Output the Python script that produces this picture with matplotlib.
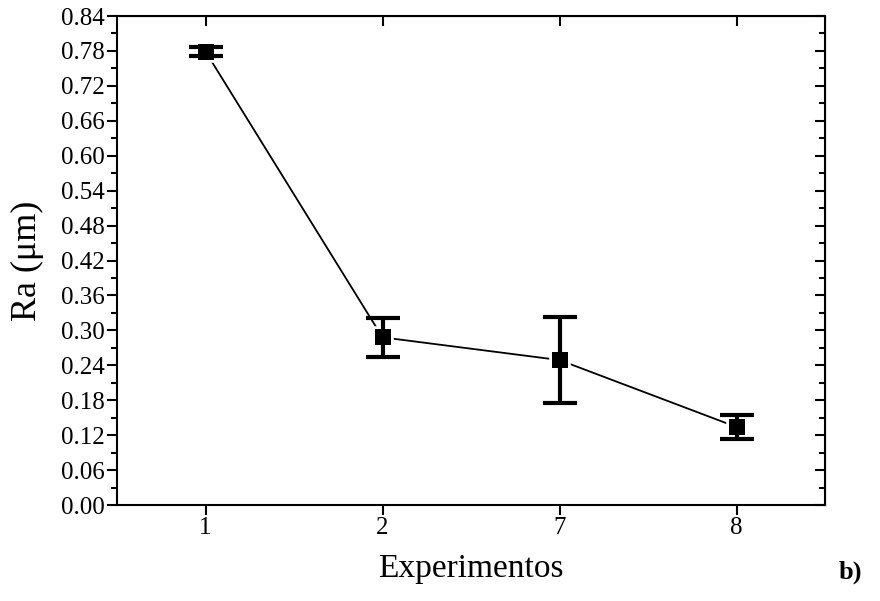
import matplotlib.pyplot as plt
from matplotlib.ticker import MultipleLocator
import numpy as np

plt.rcParams['font.family'] = ['Liberation Serif', 'DejaVu Serif']

experimentos = ['1', '2', '7', '8']
ra = [0.779, 0.288, 0.249, 0.134]
ra_err = [0.008, 0.033, 0.074, 0.020]

x = np.arange(len(experimentos))
yt = np.arange(0, 0.841, 0.06)

fig = plt.figure(figsize=(8.8, 6.01), dpi=100)
ax = fig.add_axes([117 / 880, 1 - 505 / 601, 708 / 880, 489 / 601])

# line with small gaps around the markers
ax.plot(x, ra, color='black', lw=1.3, zorder=1)
ax.plot(x, ra, 's', ms=12, color='black', mec='white', mew=4, zorder=2)
ax.errorbar(x, ra, yerr=ra_err, fmt='none', ecolor='black', elinewidth=3,
            capsize=12, capthick=3, zorder=3)
ax.plot(x, ra, 's', ms=12, color='black', mec='black', mew=0, zorder=4)

ax.set_xlim(-0.5, 3.5)
ax.set_ylim(0, 0.84)
ax.set_xticks(x)
ax.set_xticklabels(experimentos)
ax.set_yticks(yt)
ax.set_yticklabels(['%.2f' % v for v in yt])
ax.yaxis.set_minor_locator(MultipleLocator(0.03))

for s in ax.spines.values():
    s.set_linewidth(1.5)

ax.tick_params(axis='both', which='major', direction='out', length=7, width=1.5,
               labelsize=18, pad=2)
ax.tick_params(axis='y', which='minor', direction='out', length=4, width=1.5)
ax.tick_params(axis='x', which='minor', bottom=False)

# right and top inward ticks
ay = ax.secondary_yaxis('right')
ay.set_yticks(yt)
ay.yaxis.set_minor_locator(MultipleLocator(0.03))
ay.tick_params(which='major', direction='in', length=7, width=1.5, labelright=False)
ay.tick_params(which='minor', direction='in', length=4, width=1.5)
ax_top = ax.secondary_xaxis('top')
ax_top.set_xticks(x)
ax_top.tick_params(direction='in', length=7, width=1.5, labeltop=False)

ax.set_xlabel('Experimentos', fontsize=24, labelpad=10)
ax.set_ylabel('Ra (μm)', fontsize=26, labelpad=12)

fig.text(850 / 880, 1 - 572 / 601, 'b)', fontsize=19, fontweight='bold',
         ha='center', va='center')

fig.savefig('out.png', dpi=100)
